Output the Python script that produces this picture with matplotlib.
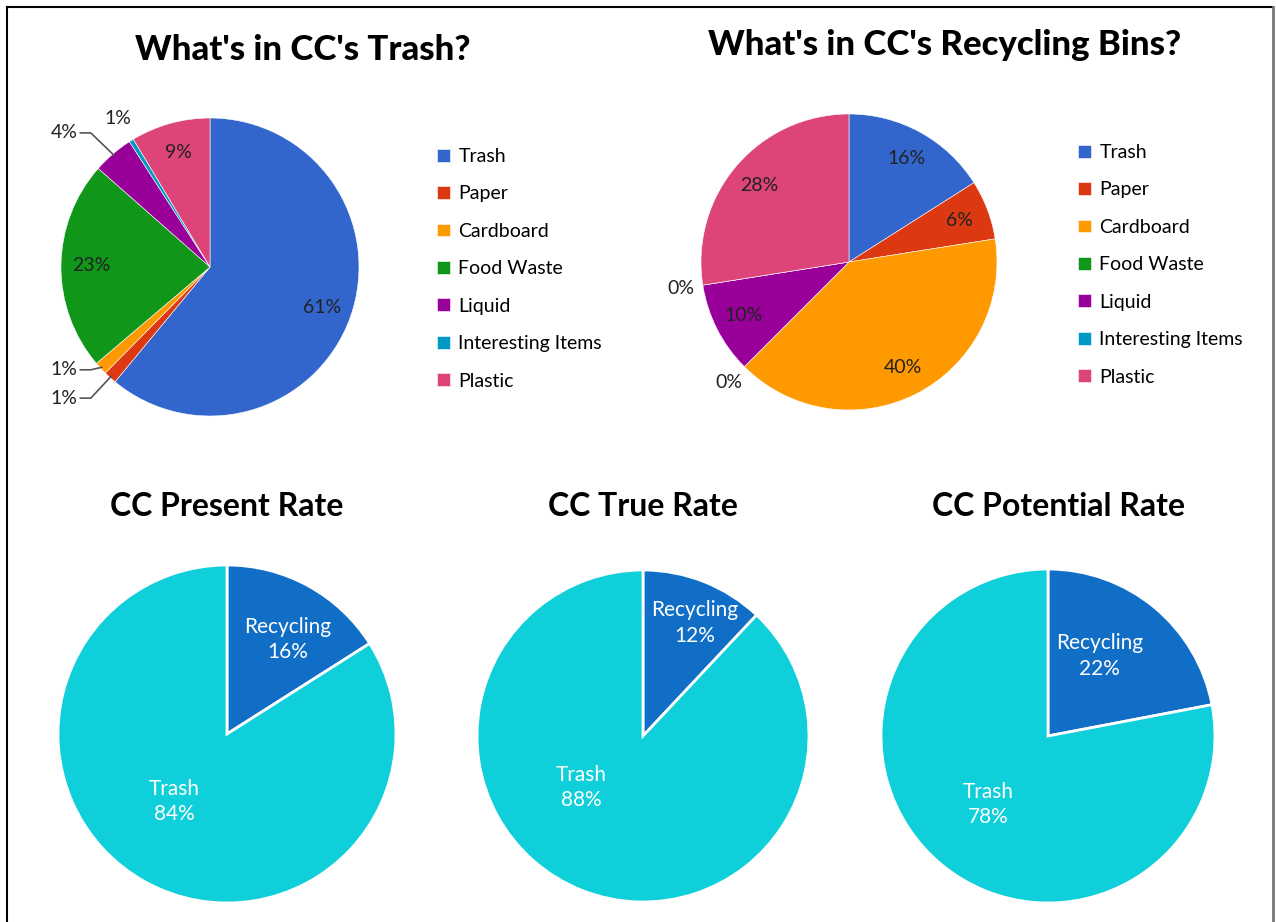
import matplotlib.pyplot as plt
from matplotlib.lines import Line2D
import numpy as np

plt.rcParams['font.family'] = ['Lato', 'DejaVu Sans']

W, H = 1276, 922

# waste audit data
categories = ['Trash', 'Paper', 'Cardboard', 'Food Waste', 'Liquid', 'Interesting Items', 'Plastic']
cat_colors = ['#3366cc', '#dc3912', '#ff9900', '#109618', '#990099', '#0099c6', '#dd4477']

trash_bin = [61, 1.4, 1.4, 22.7, 4.4, 0.5, 8.6]
trash_bin_labels = ['61%', '1%', '1%', '23%', '4%', '1%', '9%']

recycling_bin = [16, 6.5, 40, 0, 10, 0, 27.5]
recycling_bin_labels = ['16%', '6%', '40%', '0%', '10%', '0%', '28%']

rate_titles = ['CC Present Rate', 'CC True Rate', 'CC Potential Rate']
rate_names = ['Recycling', 'Trash']
recycling_rate = [16, 12, 22]
trash_rate = [84, 88, 78]
rate_colors = ['#116ec6', '#0fcfda']


def pie_axes(fig, cx, cy, r):
    ax = fig.add_axes([(cx - r) / W, 1 - (cy + r) / H, 2 * r / W, 2 * r / H])
    return ax


def finish(ax):
    ax.set_xlim(-1, 1)
    ax.set_ylim(-1, 1)
    ax.set_aspect('equal')
    ax.axis('off')


def mid(w):
    a = np.deg2rad((w.theta1 + w.theta2) / 2)
    return np.cos(a), np.sin(a)


fig = plt.figure(figsize=(W / 100, H / 100), dpi=100)

# border
fig.add_artist(Line2D([7 / W, 7 / W], [0, 1 - 7 / H], color='black', lw=1.5))
fig.add_artist(Line2D([7 / W, 1273 / W], [1 - 7 / H, 1 - 7 / H], color='black', lw=1.5))
fig.add_artist(Line2D([1273 / W, 1273 / W], [0, 1 - 7 / H], color='#777777', lw=2))

leg_kw = dict(loc='upper left', frameon=False, fontsize=14, handlelength=0.65, handleheight=0.65,
              handletextpad=0.45, labelspacing=1.05, borderpad=0, borderaxespad=0)
label_kw = dict(fontsize=14, color='#222222', ha='center', va='center')

# ---- What's in CC's Trash?
ax1 = pie_axes(fig, 210, 267, 149)
wedges1, _ = ax1.pie(trash_bin, colors=cat_colors, startangle=90, counterclock=False,
                     radius=1, wedgeprops=dict(edgecolor='white', linewidth=0.4))
finish(ax1)
for i, w in enumerate(wedges1):
    c, s = mid(w)
    if i in (0, 3, 6):
        ax1.text(0.8 * c, 0.8 * s, trash_bin_labels[i], **label_kw)
    elif i == 5:
        ax1.text(1.17 * c, 1.17 * s, trash_bin_labels[i], **label_kw)
    else:
        ty = {4: 0.90, 2: -0.69, 1: -0.88}[i]
        ax1.text(-0.98, ty, trash_bin_labels[i], clip_on=False, **label_kw)
        ax1.plot([-0.87, -0.8, 0.99 * c], [ty, ty, 0.99 * s], color='#555555', lw=1.2,
                 clip_on=False)

fig.text(303 / W, 1 - 50 / H, "What's in CC's Trash?", fontsize=25, fontweight='black',
         ha='center', va='center')
fig.legend(wedges1, categories, bbox_to_anchor=(437 / W, 1 - 148 / H), **leg_kw)

# ---- What's in CC's Recycling Bins?
ax2 = pie_axes(fig, 849, 262, 148)
wedges2, _ = ax2.pie(recycling_bin, colors=cat_colors, startangle=90, counterclock=False,
                     radius=1, wedgeprops=dict(edgecolor='white', linewidth=0.4))
finish(ax2)
for i, w in enumerate(wedges2):
    c, s = mid(w)
    d = 1.15 if recycling_bin[i] == 0 else 0.8
    ax2.text(d * c, d * s, recycling_bin_labels[i], clip_on=False, **label_kw)

fig.text(945 / W, 1 - 45 / H, "What's in CC's Recycling Bins?", fontsize=25, fontweight='black',
         ha='center', va='center')
fig.legend(wedges2, categories, bbox_to_anchor=(1078 / W, 1 - 144 / H), **leg_kw)

# ---- rate pies
centers = [(227, 734, 169), (643, 736, 166), (1048, 736, 167)]
title_x = [227, 643, 1058]
rec_xy = [(0.36, 0.56), (0.31, 0.68), (0.31, 0.48)]
tr_xy = [(-0.31, -0.40), (-0.37, -0.31), (-0.36, -0.41)]
for k in range(3):
    cx, cy, r = centers[k]
    ax = pie_axes(fig, cx, cy, r)
    ax.pie([recycling_rate[k], trash_rate[k]], colors=rate_colors, startangle=90,
           counterclock=False, radius=1, wedgeprops=dict(edgecolor='white', linewidth=2))
    finish(ax)
    ax.text(rec_xy[k][0], rec_xy[k][1], f"{rate_names[0]}\n{recycling_rate[k]}%", color='white',
            fontsize=15, ha='center', va='center', linespacing=1.35)
    ax.text(tr_xy[k][0], tr_xy[k][1], f"{rate_names[1]}\n{trash_rate[k]}%", color='white',
            fontsize=15, ha='center', va='center', linespacing=1.35)
    fig.text(title_x[k] / W, 1 - 507 / H, rate_titles[k], fontsize=23, fontweight='bold',
             ha='center', va='center')

fig.savefig('out.png', dpi=100)
